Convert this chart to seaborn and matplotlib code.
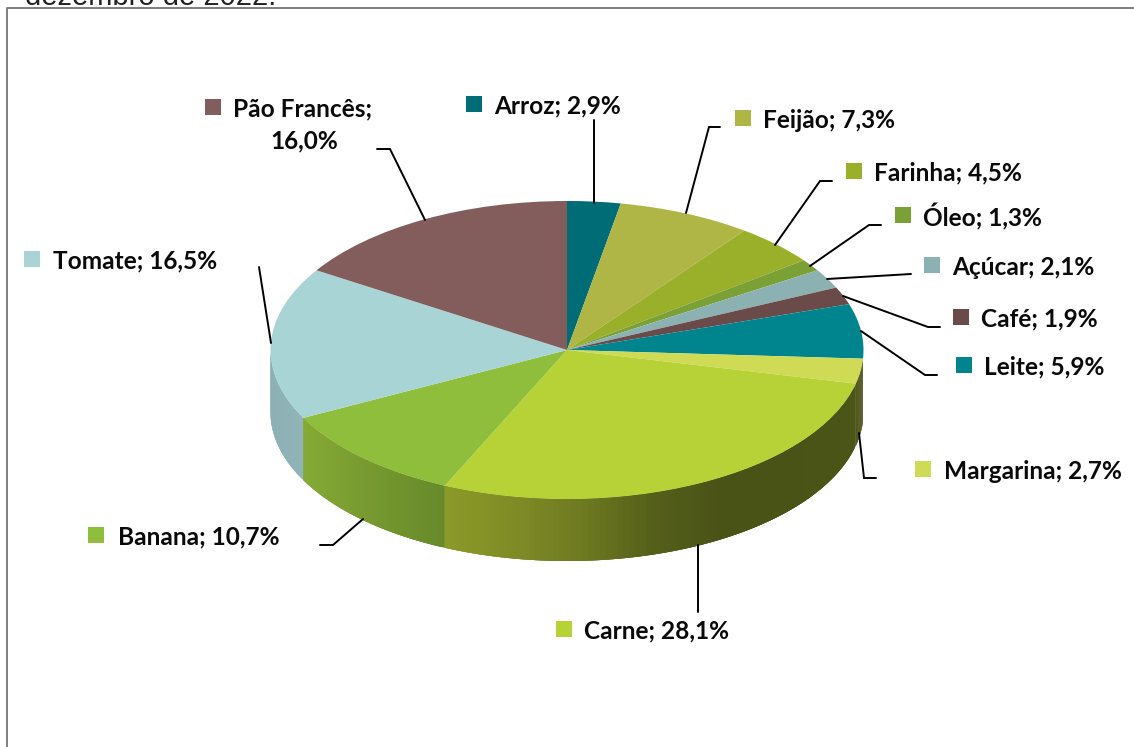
import numpy as np
import matplotlib
matplotlib.use("Agg")
import matplotlib.pyplot as plt
import seaborn as sns
from matplotlib.colors import to_rgb

W, H = 1134, 747

categories = ["Arroz", "Feijão", "Farinha", "Óleo", "Açúcar", "Café", "Leite",
              "Margarina", "Carne", "Banana", "Tomate", "Pão Francês"]
values = [2.9, 7.3, 4.5, 1.3, 2.1, 1.9, 5.9, 2.7, 28.1, 10.7, 16.5, 16.0]
value_labels = ["2,9%", "7,3%", "4,5%", "1,3%", "2,1%", "1,9%", "5,9%",
                "2,7%", "28,1%", "10,7%", "16,5%", "16,0%"]
colors = ["#006C75", "#AFB645", "#9AAF2A", "#7BA035", "#8BB1B3", "#6B4A4A",
          "#00858F", "#D0DB55", "#B6D236", "#8FBE3C", "#A9D4D5", "#835D5C"]
title_tail = "dezembro de 2022."

# pie geometry in pixels
cx, cy, rx, ry, depth = 567, 350, 296.5, 149, 62

# side wall shades, left to right
wall_shades = {
    "Margarina": ["#4C5518", "#5E6030"],
    "Carne": ["#8C9A28", "#7F8C26", "#6E7A20", "#55601A", "#4A5316", "#4A5316", "#4C5518"],
    "Banana": ["#86AA36", "#76982F", "#668A2A"],
    "Tomate": ["#8DB0B4", "#90B4B8"],
}

# key x, text x, y centre
label_pos = {
    "Arroz": (466, 494, 106), "Feijão": (735, 763, 120), "Farinha": (846, 874, 173),
    "Óleo": (895, 923, 217), "Açúcar": (924, 952, 267), "Café": (953, 981, 319),
    "Leite": (956, 984, 367), "Margarina": (915, 944, 471), "Carne": (556, 584, 631),
    "Banana": (89, 118, 537), "Tomate": (25, 53, 261), "Pão Francês": (206, 234, 109),
}
leaders = [
    [(594, 120), (594, 203)],
    [(720, 127), (709, 127), (686, 213)],
    [(832, 181), (820, 181), (775, 245)],
    [(881, 225), (869, 225), (810, 266)],
    [(911, 274), (827, 279)],
    [(940, 327), (928, 327), (843, 296)],
    [(937, 375), (925, 375), (861, 331)],
    [(876, 478), (864, 478), (859, 433)],
    [(698, 612), (698, 545)],
    [(320, 545), (333, 545), (363, 519)],
    [(259, 267), (271, 343)],
    [(377, 149), (390, 149), (425, 220)],
]


def P(x, y):
    # pixel position to pie data units
    return (x - cx) / rx, (cy - y) / ry


def draw_wall(ax, frac_start, frac_end, shades):
    # angle measured clockwise from the top of the pie
    a0 = max(frac_start * 360, 90)
    a1 = min(frac_end * 360, 270)
    if a1 <= a0:
        return
    angles = np.radians(np.linspace(a0, a1, 90))
    xs = np.sin(angles)
    x_lo, x_hi = xs.min(), xs.max()
    rgb = np.array([to_rgb(c) for c in shades])
    stops = np.linspace(0, 1, len(rgb))
    for i in range(len(angles) - 1):
        t = ((xs[i] + xs[i + 1]) / 2 - x_lo) / (x_hi - x_lo)
        col = [np.interp(t, stops, rgb[:, k]) for k in range(3)]
        # slices overlap the next one so no seams show between them
        j = min(i + 3, len(angles) - 1)
        arc_a = angles[i:j + 1]
        xq = np.r_[xs[i:j + 1], xs[i:j + 1][::-1]]
        yq = np.r_[np.cos(arc_a), (np.cos(arc_a) - depth / ry)[::-1]]
        ax.fill(xq, yq, color=col, lw=0, zorder=1)


def main():
    sns.set_theme(style="white")
    plt.rcParams['font.family'] = ['Lato', 'DejaVu Sans']
    palette = sns.color_palette(colors)

    fig = plt.figure(figsize=(W / 100, H / 100), dpi=100)
    ax = fig.add_axes([0, 0, 1, 1])

    total = sum(values)
    start = 0
    for name, v in zip(categories, values):
        if name in wall_shades:
            draw_wall(ax, start / total, (start + v) / total, wall_shades[name])
        start += v

    wedges, _ = ax.pie(values, colors=palette, startangle=90, counterclock=False,
                       radius=1, wedgeprops={"linewidth": 0, "zorder": 2})
    ax.set_aspect('auto')
    x0, y0 = P(0, H)
    x1, y1 = P(W, 0)
    ax.set_xlim(x0, x1)
    ax.set_ylim(y0, y1)
    ax.axis('off')

    # chart frame, open at the right and the bottom
    fx, fy = zip(*[P(7, H), P(7, 8), P(W, 8)])
    ax.plot(fx, fy, color="#7F7F7F", lw=1.4, zorder=3)

    ax.text(*P(25, 5), title_tail, family="Liberation Sans", fontsize=21, color="#222222",
            ha="left", va="baseline", zorder=4)

    for line in leaders:
        lx, ly = zip(*[P(x, y) for x, y in line])
        ax.plot(lx, ly, color="black", lw=1.4, zorder=5, solid_joinstyle="miter")

    for name, lab, col in zip(categories, value_labels, palette):
        key_x, text_x, yc = label_pos[name]
        ax.scatter(*P(key_x + 7.5, yc - 2), marker="s", s=125, color=col, linewidths=0, zorder=5)
        if name == "Pão Francês":
            ax.text(*P(text_x + 69, yc), name + ";", fontsize=17.6, fontweight="bold",
                    color="#0A0A0A", ha="center", va="center", zorder=5)
            ax.text(*P(text_x + 70, yc + 32), lab, fontsize=17.6, fontweight="bold",
                    color="#0A0A0A", ha="center", va="center", zorder=5)
        else:
            ax.text(*P(text_x, yc), f"{name}; {lab}", fontsize=17.6, fontweight="bold",
                    color="#0A0A0A", ha="left", va="center", zorder=5)

    fig.savefig("out.png", dpi=100, facecolor="white")


if __name__ == "__main__":
    main()
